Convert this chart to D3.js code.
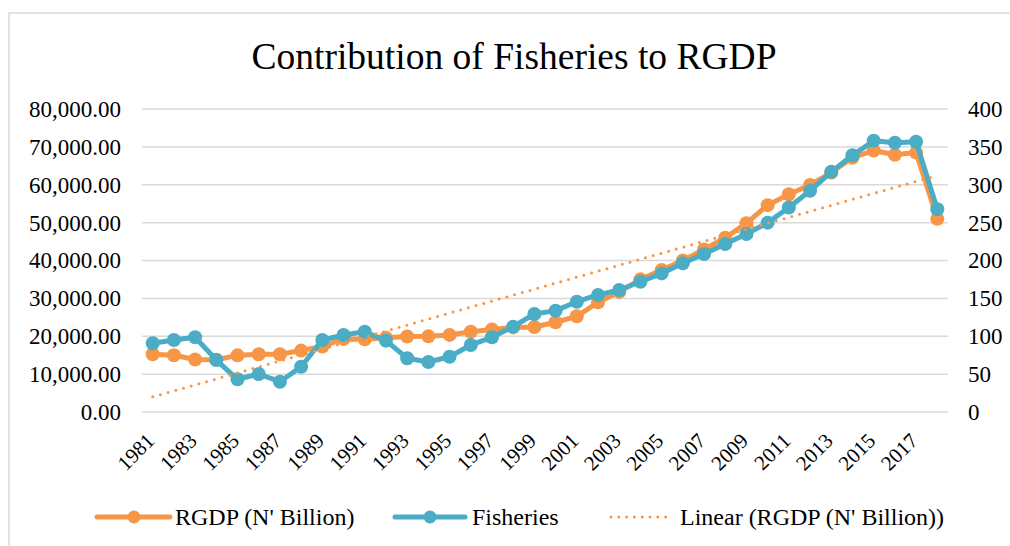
<!DOCTYPE html>
<html><head><meta charset="utf-8">
<script src="https://cdn.jsdelivr.net/npm/d3@7"></script>
<style>
html,body{margin:0;padding:0;background:#fff;}
svg{display:block;}
svg text{font-family:"Liberation Serif","Times New Roman",serif;}
</style></head>
<body><svg id="chart" width="1010" height="546"></svg>
<script>
const years = [1981,1982,1983,1984,1985,1986,1987,1988,1989,1990,1991,1992,1993,1994,1995,1996,1997,1998,1999,2000,2001,2002,2003,2004,2005,2006,2007,2008,2009,2010,2011,2012,2013,2014,2015,2016,2017,2018];
const rgdp = [15258,14985,13849,13780,14953,15238,15263,16216,17294,19305,19200,19620,19928,19979,20354,21178,21790,22333,22449,23689,25267,28957,31710,35021,37475,39996,42923,46013,49857,54612,57511,59929,63219,67152,69023,67931,68490,51000];
const fisheries = [90.7,95,98.6,68.6,43.2,50.2,40,59.8,95,101.7,106,94.2,70.9,66,73,88.5,98.6,112.7,129.4,133.8,145.6,154.5,161,172,183,196.3,208.6,221.8,235,250,270,292,317,339,358,355.5,356.8,267.6];
const leftTicks = [0,10000,20000,30000,40000,50000,60000,70000,80000];
const rightTicks = [0,50,100,150,200,250,300,350,400];
const xTickYears = years.filter((y,i)=>i%2===0 && y<=2017);
const title = "Contribution of Fisheries to RGDP";
const seriesNames = ["RGDP (N' Billion)","Fisheries","Linear (RGDP (N' Billion))"];

const FONT = "Liberation Serif";
const ORANGE = "#F79646", TEAL = "#4BACC6", GRID = "#d9d9d9";
const svg = d3.select("#chart");
const L = 142.1, R = 947.9, T = 109, B = 412;

// chart frame
svg.append("rect").attr("x",9).attr("y",13).attr("width",1100).attr("height",600)
  .attr("fill","#fff").attr("stroke",GRID).attr("stroke-width",1.5);

const x = d3.scalePoint().domain(years).range([L,R]).padding(0.5);
const yL = d3.scaleLinear().domain([0,80000]).range([B,T]);
const yR = d3.scaleLinear().domain([0,400]).range([B,T]);

// gridlines
svg.append("g").selectAll("line").data(leftTicks).join("line")
  .attr("x1",L).attr("x2",R).attr("y1",d=>yL(d)).attr("y2",d=>yL(d))
  .attr("stroke",GRID).attr("stroke-width",1.5);

// left axis
const fmtL = d3.format(",.2f");
const axL = svg.append("g").attr("transform",`translate(${L-21},0)`)
  .call(d3.axisLeft(yL).tickValues(leftTicks).tickFormat(fmtL).tickSize(0).tickPadding(0));
axL.attr("font-family",FONT);
axL.select(".domain").remove();
axL.selectAll("text").attr("font-size",23).attr("font-family",FONT).attr("fill","#000");

// right axis
const axR = svg.append("g").attr("transform",`translate(${R+20},0)`)
  .call(d3.axisRight(yR).tickValues(rightTicks).tickSize(0).tickPadding(0));
axR.attr("font-family",FONT);
axR.select(".domain").remove();
axR.selectAll("text").attr("font-size",23).attr("font-family",FONT).attr("fill","#000");

// x labels
svg.append("g").selectAll("text").data(xTickYears).join("text")
  .attr("transform",d=>`translate(${x(d)+3},${B+30}) rotate(-45)`)
  .attr("text-anchor","end").attr("font-size",21).attr("font-family",FONT).attr("fill","#000").text(d=>d);

// series
const lineL = d3.line().x((d,i)=>x(years[i])).y(d=>yL(d));
const lineR = d3.line().x((d,i)=>x(years[i])).y(d=>yR(d));
svg.append("path").datum(rgdp).attr("d",lineL).attr("fill","none").attr("stroke",ORANGE)
  .attr("stroke-width",5).attr("stroke-linejoin","round").attr("stroke-linecap","round");
svg.append("g").selectAll("circle").data(rgdp).join("circle")
  .attr("cx",(d,i)=>x(years[i])).attr("cy",d=>yL(d)).attr("r",7).attr("fill",ORANGE);

svg.append("path").datum(fisheries).attr("d",lineR).attr("fill","none").attr("stroke",TEAL)
  .attr("stroke-width",5).attr("stroke-linejoin","round").attr("stroke-linecap","round");
svg.append("g").selectAll("circle").data(fisheries).join("circle")
  .attr("cx",(d,i)=>x(years[i])).attr("cy",d=>yR(d)).attr("r",7).attr("fill",TEAL);

// linear trend of RGDP (least squares on index)
const n = rgdp.length;
const idx = d3.range(1,n+1);
const mx = d3.mean(idx), my = d3.mean(rgdp);
const slope = d3.sum(idx.map((v,i)=>(v-mx)*(rgdp[i]-my))) / d3.sum(idx.map(v=>(v-mx)*(v-mx)));
const icpt = my - slope*mx;
const trend = [ {yr:years[0], v:icpt+slope*1}, {yr:years[n-1], v:icpt+slope*n} ];
svg.append("path").datum(trend)
  .attr("d",d3.line().x(d=>x(d.yr)).y(d=>yL(d.v)))
  .attr("fill","none").attr("stroke",ORANGE).attr("stroke-width",3)
  .attr("stroke-dasharray","0,8").attr("stroke-linecap","round");

// title
svg.append("text").attr("x",514).attr("y",69).attr("text-anchor","middle")
  .attr("font-size",37.5).attr("font-family",FONT).attr("fill","#000").text(title);

// legend
const ly = 517;
const leg = svg.append("g").attr("font-family",FONT);
leg.append("line").attr("x1",97).attr("x2",170).attr("y1",ly).attr("y2",ly)
  .attr("stroke",ORANGE).attr("stroke-width",5).attr("stroke-linecap","round");
leg.append("circle").attr("cx",134).attr("cy",ly).attr("r",6.5).attr("fill",ORANGE);
leg.append("text").attr("x",175).attr("y",ly+8).attr("font-size",24).attr("font-family",FONT).text(seriesNames[0]);
leg.append("line").attr("x1",395).attr("x2",465).attr("y1",ly).attr("y2",ly)
  .attr("stroke",TEAL).attr("stroke-width",5).attr("stroke-linecap","round");
leg.append("circle").attr("cx",430).attr("cy",ly).attr("r",6.5).attr("fill",TEAL);
leg.append("text").attr("x",472).attr("y",ly+8).attr("font-size",24).attr("font-family",FONT).text(seriesNames[1]);
leg.append("line").attr("x1",611).attr("x2",666).attr("y1",ly).attr("y2",ly)
  .attr("stroke",ORANGE).attr("stroke-width",3).attr("stroke-dasharray","0,7.8").attr("stroke-linecap","round");
leg.append("text").attr("x",680).attr("y",ly+8).attr("font-size",24).attr("font-family",FONT).text(seriesNames[2]);
</script></body></html>
